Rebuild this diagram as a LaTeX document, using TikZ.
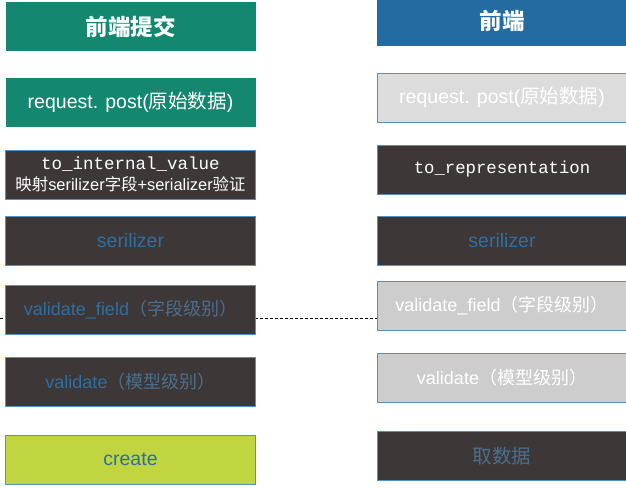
\documentclass[tikz,border=0pt]{standalone}
\usepackage{fontspec}
\setmainfont{Liberation Sans}
\setmonofont{Liberation Mono}
\newfontfamily\cjk{Noto Sans CJK SC}
\usetikzlibrary{backgrounds}
\definecolor{hgreen}{HTML}{13876F}
\definecolor{hblue}{HTML}{236BA0}
\definecolor{dbox}{HTML}{3D3738}
\definecolor{bblue}{HTML}{4F93C9}
\definecolor{lgray}{HTML}{DCDCDC}
\definecolor{mgray}{HTML}{CDCDCD}
\definecolor{lime}{HTML}{C0D53F}
\definecolor{tblue}{HTML}{2E6FA3}
\definecolor{tgblue}{HTML}{4A6F8E}
\newcommand{\zh}[1]{{\cjk #1}}
\tikzset{
  box/.style={rectangle, minimum height=49pt, inner sep=0pt, align=center, font=\fontsize{19.5}{22}\selectfont},
  lbox/.style={box, minimum width=250pt},
  rbox/.style={box, minimum width=250pt},
  hdr/.style={font=\fontsize{22.5}{26}\selectfont\cjk\bfseries, text=white},
  greenbox/.style={fill=hgreen, text=white},
  darkbox/.style={fill=dbox, draw=bblue, line width=0.9pt},
  graybox/.style={draw=bblue, line width=0.9pt, text=white},
  limebox/.style={fill=lime, draw=bblue, line width=0.9pt, text=tblue},
}
\begin{document}
\begin{tikzpicture}[x=1pt,y=-1pt]
\useasboundingbox (0,0) rectangle (626,488);
% left column
\node[lbox, greenbox, hdr] (lh) at (130.5,26.5) {前端提交};
\node[lbox, greenbox] (lreq) at (130.5,102.5) {request. post(\zh{原始数据})};
\node[lbox, darkbox, text=white] (lint) at (130.5,174.5)
  {{\ttfamily\fontsize{17.5}{21}\selectfont to\_internal\_value}\\[-1pt]
   {\fontsize{16.4}{20}\selectfont\zh{映射}serilizer\zh{字段}+serializer\zh{验证}}};
\node[lbox, darkbox, text=tblue] (lser) at (130.5,241) {serilizer};
\node[lbox, darkbox, text=tblue, font=\fontsize{18}{22}\selectfont] (lvf) at (130.5,309.5)
  {validate\_field\textcolor{tgblue}{\zh{（字段级别）}}};
\node[lbox, darkbox, text=tblue, font=\fontsize{18}{22}\selectfont] (lval) at (130.5,381.5)
  {validate\textcolor{tgblue}{\zh{（模型级别）}}};
\node[lbox, limebox] (lcre) at (130.5,459.5) {create};
% right column
\node[rbox, fill=hblue, hdr, minimum height=50pt] (rh) at (502,21) {前端};
\node[rbox, graybox, fill=lgray] (rreq) at (502,97.5) {request. post(\zh{原始数据})};
\node[rbox, darkbox, text=white] (rrep) at (502,169.5)
  {\ttfamily\fontsize{17.3}{21}\selectfont to\_representation};
\node[rbox, darkbox, text=tblue] (rser) at (502,241) {serilizer};
\node[rbox, graybox, fill=mgray, font=\fontsize{18}{22}\selectfont] (rvf) at (502,306)
  {validate\_field\zh{（字段级别）}};
\node[rbox, graybox, fill=mgray, font=\fontsize{18}{22}\selectfont] (rval) at (502,377.5)
  {validate\zh{（模型级别）}};
\node[rbox, darkbox, text=tgblue] (rget) at (502,456) {\zh{取数据}};
% dashed connector
\coordinate (dstart) at (0,318);
\begin{scope}[on background layer]
\draw[dashed, line width=0.8pt, dash pattern=on 3pt off 2pt] (dstart) -- (dstart -| rvf.west);
\end{scope}
\end{tikzpicture}
\end{document}
